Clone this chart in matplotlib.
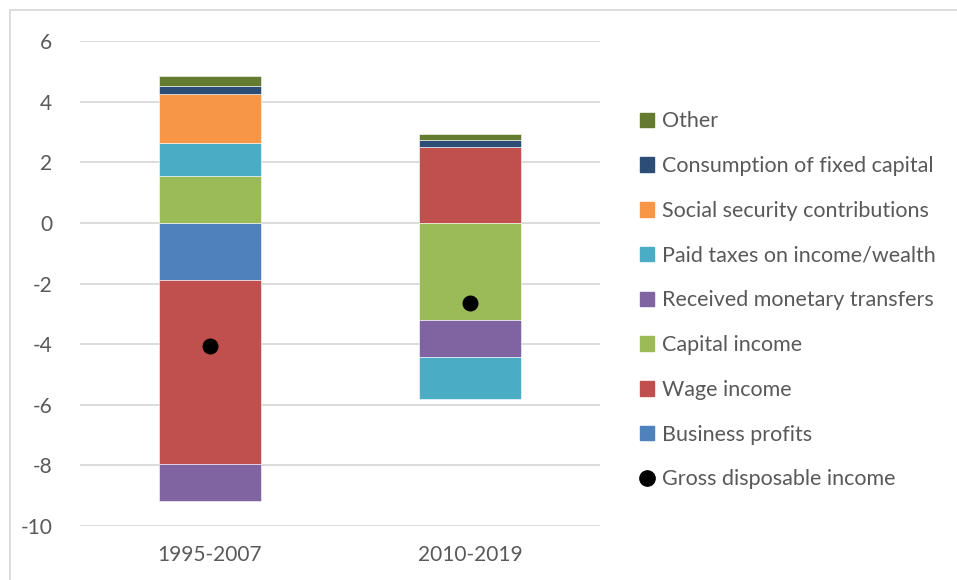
import numpy as np
import matplotlib.pyplot as plt
from matplotlib.patches import Patch
from matplotlib.lines import Line2D

periods = ['1995-2007', '2010-2019']

# contributions, stacked in this order (Excel style: positives up, negatives down)
series = ['Business profits', 'Wage income', 'Capital income', 'Received monetary transfers',
          'Paid taxes on income/wealth', 'Social security contributions',
          'Consumption of fixed capital', 'Other']
business = [-1.9, 0.0]
wage = [-6.05, 2.5]
capital = [1.55, -3.21]
transfers = [-1.22, -1.2]
taxes = [1.07, -1.39]
social = [1.64, 0.0]
cfc = [0.26, 0.23]
other = [0.33, 0.21]
gdi = [-4.06, -2.65]

values = [business, wage, capital, transfers, taxes, social, cfc, other]
colors = ['#4f81bd', '#c0504d', '#9bbb59', '#8064a2', '#4bacc6', '#f79646', '#2c4d75', '#637a2f']

plt.rcParams['font.family'] = ['Lato', 'DejaVu Sans']
plt.rcParams['axes.unicode_minus'] = False
txt = '#595959'

fig = plt.figure(figsize=(9.57, 5.8), dpi=100)
ax = fig.add_axes([80/957, 1-526/580, 520/957, 485/580])

x = np.arange(len(periods))
pos = np.zeros(len(periods))
neg = np.zeros(len(periods))
for name, v, c in zip(series, values, colors):
    v = np.array(v)
    bottom = np.where(v >= 0, pos, neg)
    ax.bar(x, v, 0.39, bottom=bottom, color=c, edgecolor='white', linewidth=0.4, zorder=2)
    pos = pos + np.where(v > 0, v, 0)
    neg = neg + np.where(v < 0, v, 0)

ax.scatter(x, gdi, s=110, color='black', zorder=3)

ax.set_xlim(-0.5, 1.5)
ax.set_ylim(-10, 6)
ax.set_yticks(np.arange(-10, 7, 2))
ax.set_xticks(x)
ax.set_xticklabels(periods)
ax.grid(axis='y', color='#d9d9d9', linewidth=1.3, zorder=0)
ax.set_axisbelow(True)
for s in ax.spines.values():
    s.set_visible(False)
ax.tick_params(length=0, labelsize=15, colors=txt)
ax.tick_params(axis='y', pad=20)
ax.tick_params(axis='x', pad=14)

# chart frame
fig.add_artist(Line2D([10/957, 10/957], [0, 1-10/580], color='#d9d9d9', lw=1.3))
fig.add_artist(Line2D([10/957, 1], [1-10/580, 1-10/580], color='#d9d9d9', lw=1.3))

handles = [Patch(color=c) for c in colors][::-1]
labels = series[::-1]
handles.append(Line2D([], [], marker='o', color='black', linestyle='none', markersize=11))
labels.append('Gross disposable income')
leg = fig.legend(handles, labels, loc='upper left', bbox_to_anchor=(621/957, 1-92/580),
                 frameon=False, fontsize=15.5, labelcolor=txt, handlelength=0.65,
                 handleheight=0.65, handletextpad=0.35, labelspacing=1.15)

fig.savefig('out.png', dpi=100)
